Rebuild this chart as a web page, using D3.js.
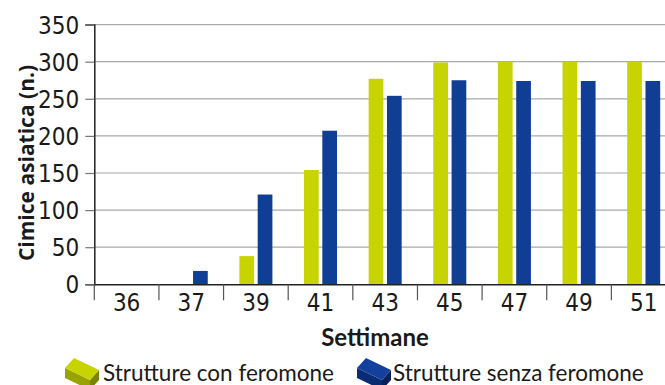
<!DOCTYPE html>
<html>
<head>
<meta charset="utf-8">
<script src="https://cdn.jsdelivr.net/npm/d3@7"></script>
<style>
  html, body { margin: 0; padding: 0; background: #fff; }
  svg { display: block; }
  text { fill: #1a1a1a; }
</style>
</head>
<body>
<svg id="chart" width="665" height="385"></svg>
<script>
// Settimane di monitoraggio
const weeks = ["36", "37", "39", "41", "43", "45", "47", "49", "51"];
// Catture per tipo di struttura
const conFeromone = [0, 0, 38, 154, 277, 299, 300, 300, 300];
const senzaFeromone = [0, 18, 121, 207, 254, 275, 274, 274, 274];
const seriesNames = ["Strutture con feromone", "Strutture senza feromone"];
const seriesColors = ["#c8d400", "#0f3e94"];
const yTicks = [0, 50, 100, 150, 200, 250, 300, 350];

const svg = d3.select("#chart");
const W = 665;
const plot = { left: 94.3, right: 676, top: 24.6, bottom: 284.3 };

const x = d3.scaleBand().domain(weeks).range([plot.left, plot.right]).paddingInner(0).paddingOuter(0);
const xs = d3.scaleBand().domain([0, 1]).range([0, x.bandwidth()]).paddingInner(0.197).paddingOuter(0.863);
const y = d3.scaleLinear().domain([0, 350]).range([plot.bottom, plot.top]);

const labelFont = "'Liberation Sans Narrow', 'DejaVu Sans Condensed', sans-serif";
const titleFont = "Lato, 'Open Sans', sans-serif";

// griglia orizzontale
svg.append("g")
  .selectAll("line")
  .data(yTicks.filter(d => d > 0))
  .join("line")
  .attr("x1", plot.left).attr("x2", W)
  .attr("y1", d => y(d)).attr("y2", d => y(d))
  .attr("stroke", "#a8a8a8").attr("stroke-width", 1.2);

// barre
const rows = weeks.map((w, i) => [conFeromone[i], senzaFeromone[i]]);
const groups = svg.append("g").selectAll("g")
  .data(rows)
  .join("g")
  .attr("transform", (d, i) => `translate(${x(weeks[i])},0)`);
groups.selectAll("rect")
  .data(d => d.map((v, k) => ({ v, k })))
  .join("rect")
  .attr("x", d => xs(d.k))
  .attr("width", xs.bandwidth())
  .attr("y", d => y(d.v))
  .attr("height", d => y(0) - y(d.v))
  .attr("fill", d => seriesColors[d.k]);

// asse Y
const yAxis = svg.append("g")
  .attr("transform", `translate(${plot.left},0)`)
  .call(d3.axisLeft(y).tickValues(yTicks).tickSize(9).tickPadding(6));
yAxis.select(".domain").attr("stroke", "#222").attr("stroke-width", 1.5);
yAxis.selectAll(".tick line").attr("stroke", "#777").attr("stroke-width", 1.2);
yAxis.selectAll(".tick text")
  .attr("font-family", labelFont).attr("font-size", 24).attr("fill", "#1a1a1a")
  .attr("dy", "0.36em");

// asse X
const xAxis = svg.append("g")
  .attr("transform", `translate(0,${plot.bottom})`)
  .call(d3.axisBottom(x).tickSize(0).tickPadding(0));
xAxis.select(".domain").attr("stroke", "#222").attr("stroke-width", 1.6);
xAxis.selectAll(".tick text")
  .attr("font-family", labelFont).attr("font-size", 24).attr("fill", "#1a1a1a")
  .attr("dy", "1.12em");
// separatori tra le settimane
svg.append("g").selectAll("line")
  .data(weeks)
  .join("line")
  .attr("x1", d => x(d)).attr("x2", d => x(d))
  .attr("y1", plot.bottom).attr("y2", plot.bottom + 16)
  .attr("stroke", "#555").attr("stroke-width", 1.2);

// titoli degli assi
svg.append("text")
  .attr("x", 375).attr("y", 346)
  .attr("text-anchor", "middle")
  .attr("font-family", titleFont).attr("font-weight", "bold").attr("font-size", 24)
  .text("Settimane");
svg.append("text")
  .attr("transform", "translate(34,163) rotate(-90)")
  .attr("text-anchor", "middle")
  .attr("font-family", "'Open Sans', Lato, sans-serif").attr("font-weight", "bold").attr("font-size", 21)
  .text("Cimice asiatica (n.)");

// legenda con icone a parallelepipedo
const boxShades = [
  ["#c8d400", "#98a300", "#7a8400"],
  ["#12409c", "#0b2c74", "#08215a"]
];
const legendItems = [
  { x: 65, tx: 103 },
  { x: 357, tx: 393 }
];
legendItems.forEach((it, k) => {
  const g = svg.append("g").attr("transform", `translate(${it.x},358)`);
  const [top, front, side] = boxShades[k];
  g.append("path").attr("d", "M0,10 L25,22 L25,32 L0,20 Z").attr("fill", front);
  g.append("path").attr("d", "M25,22 L34,12 L34,22 L25,32 Z").attr("fill", side);
  g.append("path").attr("d", "M0,10 L9,0 L34,12 L25,22 Z").attr("fill", top);
  svg.append("text")
    .attr("x", it.tx).attr("y", 381)
    .attr("font-family", titleFont).attr("font-size", 22.5)
    .text(seriesNames[k]);
});
</script>
</body>
</html>
